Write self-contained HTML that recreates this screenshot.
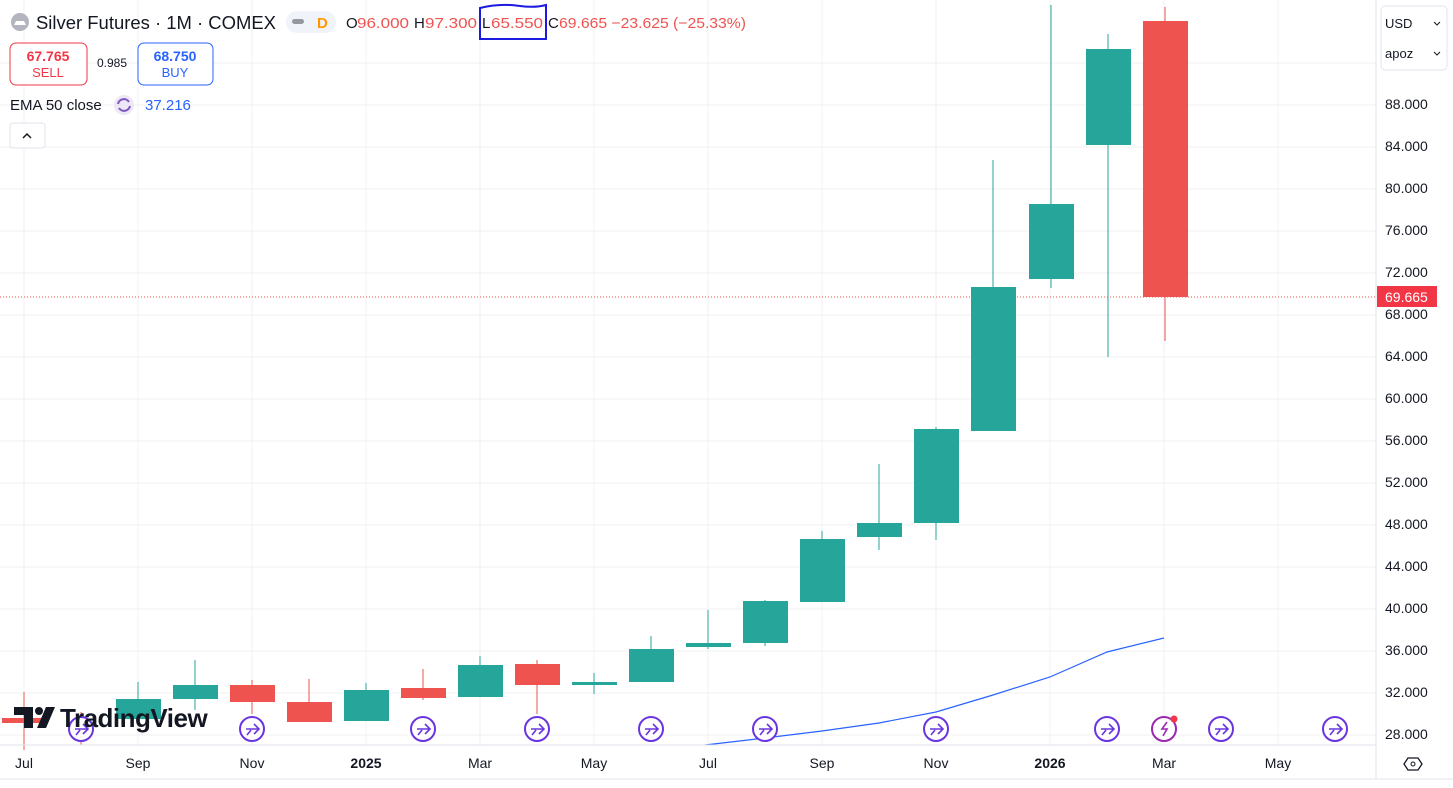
<!DOCTYPE html>
<html><head><meta charset="utf-8"><style>
body{margin:0;width:1453px;height:788px;overflow:hidden;background:#fff;font-family:"Liberation Sans",sans-serif}
svg{position:absolute;left:0;top:0}
</style></head><body>
<svg width="1453" height="788" xmlns="http://www.w3.org/2000/svg" font-family="Liberation Sans, sans-serif">
<g stroke="#f0f1f3" stroke-width="1">
<line x1="0" y1="63" x2="1376" y2="63"/><line x1="0" y1="105" x2="1376" y2="105"/><line x1="0" y1="147" x2="1376" y2="147"/><line x1="0" y1="189" x2="1376" y2="189"/><line x1="0" y1="231" x2="1376" y2="231"/><line x1="0" y1="273" x2="1376" y2="273"/><line x1="0" y1="315" x2="1376" y2="315"/><line x1="0" y1="357" x2="1376" y2="357"/><line x1="0" y1="399" x2="1376" y2="399"/><line x1="0" y1="441" x2="1376" y2="441"/><line x1="0" y1="483" x2="1376" y2="483"/><line x1="0" y1="525" x2="1376" y2="525"/><line x1="0" y1="567" x2="1376" y2="567"/><line x1="0" y1="609" x2="1376" y2="609"/><line x1="0" y1="651" x2="1376" y2="651"/><line x1="0" y1="693" x2="1376" y2="693"/><line x1="0" y1="735" x2="1376" y2="735"/>
<line x1="24" y1="0" x2="24" y2="745"/><line x1="138" y1="0" x2="138" y2="745"/><line x1="252" y1="0" x2="252" y2="745"/><line x1="366" y1="0" x2="366" y2="745"/><line x1="480" y1="0" x2="480" y2="745"/><line x1="594" y1="0" x2="594" y2="745"/><line x1="708" y1="0" x2="708" y2="745"/><line x1="822" y1="0" x2="822" y2="745"/><line x1="936" y1="0" x2="936" y2="745"/><line x1="1050" y1="0" x2="1050" y2="745"/><line x1="1164" y1="0" x2="1164" y2="745"/><line x1="1278" y1="0" x2="1278" y2="745"/>
</g>
<line x1="0" y1="297" x2="1376" y2="297" stroke="#ef5350" stroke-dasharray="1 2"/>
<g stroke-width="1">
<g fill="#ef5350" stroke="#ef5350"><line x1="24" y1="692" x2="24" y2="750"/><rect x="2" y="718" width="44" height="5" stroke="none"/></g>
<g fill="#ef5350" stroke="#ef5350"><line x1="81" y1="712" x2="81" y2="745"/></g>
<g fill="#26a69a" stroke="#26a69a"><line x1="138" y1="682" x2="138" y2="720"/><rect x="116" y="699" width="45" height="20" stroke="none"/></g>
<g fill="#26a69a" stroke="#26a69a"><line x1="195" y1="660" x2="195" y2="710"/><rect x="173" y="685" width="45" height="14" stroke="none"/></g>
<g fill="#ef5350" stroke="#ef5350"><line x1="252" y1="680" x2="252" y2="714"/><rect x="230" y="685" width="45" height="17" stroke="none"/></g>
<g fill="#ef5350" stroke="#ef5350"><line x1="309" y1="679" x2="309" y2="722"/><rect x="287" y="702" width="45" height="20" stroke="none"/></g>
<g fill="#26a69a" stroke="#26a69a"><line x1="366" y1="683" x2="366" y2="721"/><rect x="344" y="690" width="45" height="31" stroke="none"/></g>
<g fill="#ef5350" stroke="#ef5350"><line x1="423" y1="669" x2="423" y2="700"/><rect x="401" y="688" width="45" height="10" stroke="none"/></g>
<g fill="#26a69a" stroke="#26a69a"><line x1="480" y1="656" x2="480" y2="697"/><rect x="458" y="665" width="45" height="32" stroke="none"/></g>
<g fill="#ef5350" stroke="#ef5350"><line x1="537" y1="660" x2="537" y2="714"/><rect x="515" y="664" width="45" height="21" stroke="none"/></g>
<g fill="#26a69a" stroke="#26a69a"><line x1="594" y1="673" x2="594" y2="694"/><rect x="572" y="682" width="45" height="3" stroke="none"/></g>
<g fill="#26a69a" stroke="#26a69a"><line x1="651" y1="636" x2="651" y2="682"/><rect x="629" y="649" width="45" height="33" stroke="none"/></g>
<g fill="#26a69a" stroke="#26a69a"><line x1="708" y1="610" x2="708" y2="649"/><rect x="686" y="643" width="45" height="4" stroke="none"/></g>
<g fill="#26a69a" stroke="#26a69a"><line x1="765" y1="600" x2="765" y2="646"/><rect x="743" y="601" width="45" height="42" stroke="none"/></g>
<g fill="#26a69a" stroke="#26a69a"><line x1="822" y1="531" x2="822" y2="602"/><rect x="800" y="539" width="45" height="63" stroke="none"/></g>
<g fill="#26a69a" stroke="#26a69a"><line x1="879" y1="464" x2="879" y2="550"/><rect x="857" y="523" width="45" height="14" stroke="none"/></g>
<g fill="#26a69a" stroke="#26a69a"><line x1="936" y1="427" x2="936" y2="540"/><rect x="914" y="429" width="45" height="94" stroke="none"/></g>
<g fill="#26a69a" stroke="#26a69a"><line x1="993" y1="160" x2="993" y2="431"/><rect x="971" y="287" width="45" height="144" stroke="none"/></g>
<g fill="#26a69a" stroke="#26a69a"><line x1="1051" y1="5" x2="1051" y2="288"/><rect x="1029" y="204" width="45" height="75" stroke="none"/></g>
<g fill="#26a69a" stroke="#26a69a"><line x1="1108" y1="34" x2="1108" y2="357"/><rect x="1086" y="49" width="45" height="96" stroke="none"/></g>
<g fill="#ef5350" stroke="#ef5350"><line x1="1165" y1="7" x2="1165" y2="341"/><rect x="1143" y="21" width="45" height="276" stroke="none"/></g>
</g>
<polyline points="705,745 765,738 822,731 879,723 936,712 993,695 1050,677 1107,652 1164,638" fill="none" stroke="#2962ff" stroke-width="1.2"/>
<g fill="#fff" stroke="#6a35e0" stroke-width="2">
<circle cx="81" cy="729" r="12"/><circle cx="252" cy="729" r="12"/><circle cx="423" cy="729" r="12"/><circle cx="537" cy="729" r="12"/><circle cx="651" cy="729" r="12"/><circle cx="765" cy="729" r="12"/><circle cx="936" cy="729" r="12"/><circle cx="1107" cy="729" r="12"/><circle cx="1221" cy="729" r="12"/><circle cx="1335" cy="729" r="12"/>
<circle cx="1164" cy="729" r="12" stroke="#9c27b0"/>
</g>
<g fill="none" stroke="#6a35e0" stroke-width="1.6">
<path d="M75 729h12M83 724l5 5-5 5M76 735l4-5"/><path d="M246 729h12M254 724l5 5-5 5M247 735l4-5"/><path d="M417 729h12M425 724l5 5-5 5M418 735l4-5"/><path d="M531 729h12M539 724l5 5-5 5M532 735l4-5"/><path d="M645 729h12M653 724l5 5-5 5M646 735l4-5"/><path d="M759 729h12M767 724l5 5-5 5M760 735l4-5"/><path d="M930 729h12M938 724l5 5-5 5M931 735l4-5"/><path d="M1101 729h12M1109 724l5 5-5 5M1102 735l4-5"/><path d="M1215 729h12M1223 724l5 5-5 5M1216 735l4-5"/><path d="M1329 729h12M1337 724l5 5-5 5M1330 735l4-5"/>
<path d="M1167 722l-5 7h5l-4 7" stroke="#9c27b0"/>
</g>
<circle cx="1174" cy="719" r="3.5" fill="#f23645"/>
<g fill="#131722"><path d="M14 707h19v21h-9v-13h-10z"/><circle cx="39" cy="711" r="4"/><path d="M46 707h9l-9 21h-9z"/></g>
<text x="60" y="727" font-size="26" font-weight="bold" fill="#131722" letter-spacing="-0.5">TradingView</text>
<line x1="0" y1="745" x2="1376" y2="745" stroke="#e0e3eb"/>
<line x1="1376" y1="0" x2="1376" y2="779" stroke="#e0e3eb"/>
<line x1="0" y1="779" x2="1453" y2="779" stroke="#e0e3eb"/>
<g font-size="14" fill="#131722" text-anchor="middle">
<text x="24" y="768">Jul</text><text x="138" y="768">Sep</text><text x="252" y="768">Nov</text><text x="366" y="768" font-weight="bold">2025</text><text x="480" y="768">Mar</text><text x="594" y="768">May</text><text x="708" y="768">Jul</text><text x="822" y="768">Sep</text><text x="936" y="768">Nov</text><text x="1050" y="768" font-weight="bold">2026</text><text x="1164" y="768">Mar</text><text x="1278" y="768">May</text>
</g>
<g font-size="14" fill="#131722">
<text x="1385" y="109">88.000</text><text x="1385" y="151">84.000</text><text x="1385" y="193">80.000</text><text x="1385" y="235">76.000</text><text x="1385" y="277">72.000</text><text x="1385" y="319">68.000</text><text x="1385" y="361">64.000</text><text x="1385" y="403">60.000</text><text x="1385" y="445">56.000</text><text x="1385" y="487">52.000</text><text x="1385" y="529">48.000</text><text x="1385" y="571">44.000</text><text x="1385" y="613">40.000</text><text x="1385" y="655">36.000</text><text x="1385" y="697">32.000</text><text x="1385" y="739">28.000</text>
</g>
<rect x="1377" y="286" width="60" height="21" fill="#f23645"/>
<text x="1385" y="302" font-size="14" fill="#fff">69.665</text>
<rect x="1381" y="6" width="66" height="64" rx="4" fill="#fff" stroke="#e0e3eb"/>
<text x="1385" y="28" font-size="13" fill="#131722">USD</text><text x="1385" y="58" font-size="13" fill="#131722">apoz</text>
<path d="M1434 22l3 3 3-3M1434 52l3 3 3-3" fill="none" stroke="#131722"/>
<path d="M1404 764l4-6h10l4 6-4 6h-10z" fill="none" stroke="#131722" stroke-width="1.3"/><circle cx="1413" cy="764" r="2" fill="none" stroke="#131722"/>
<circle cx="20" cy="22" r="9" fill="#b2b5be"/><path d="M14 25h12l-2-4h-8z" fill="#fff"/>
<text x="36" y="29" font-size="18" fill="#131722" textLength="240" lengthAdjust="spacingAndGlyphs">Silver Futures · 1M · COMEX</text>
<rect x="286" y="11" width="50" height="22" rx="11" fill="#f0f3fa"/><rect x="292" y="19" width="12" height="5" rx="2.5" fill="#9598a1"/>
<text x="317" y="28" font-size="15" fill="#ff9800" font-weight="bold">D</text>
<g font-size="15">
<text x="346" y="28" fill="#131722">O</text><text x="357" y="28" fill="#ef5350" textLength="52" lengthAdjust="spacingAndGlyphs">96.000</text>
<text x="414" y="28" fill="#131722">H</text><text x="425" y="28" fill="#ef5350" textLength="52" lengthAdjust="spacingAndGlyphs">97.300</text>
<text x="482" y="28" fill="#131722">L</text><text x="491" y="28" fill="#ef5350" textLength="52" lengthAdjust="spacingAndGlyphs">65.550</text>
<text x="548" y="28" fill="#131722">C</text><text x="559" y="28" fill="#ef5350" textLength="187" lengthAdjust="spacingAndGlyphs">69.665 −23.625 (−25.33%)</text>
</g>
<path d="M480 8 Q500 3 520 6 Q535 8 546 5 V39 H480 Z" fill="none" stroke="#1a1ae0" stroke-width="2"/>
<rect x="10" y="43" width="77" height="42" rx="6" fill="#fff" stroke="#f23645"/>
<text x="48" y="61" font-size="14" fill="#f23645" font-weight="bold" text-anchor="middle">67.765</text><text x="48" y="77" font-size="13" fill="#f23645" text-anchor="middle">SELL</text>
<text x="112" y="67" font-size="12" fill="#131722" text-anchor="middle">0.985</text>
<rect x="138" y="43" width="75" height="42" rx="6" fill="#fff" stroke="#2962ff"/>
<text x="175" y="61" font-size="14" fill="#2962ff" font-weight="bold" text-anchor="middle">68.750</text><text x="175" y="77" font-size="13" fill="#2962ff" text-anchor="middle">BUY</text>
<text x="10" y="110" font-size="15" fill="#131722">EMA 50 close</text>
<circle cx="124" cy="105" r="10" fill="#ede7f6"/><path d="M118 104a6 6 0 0 1 11-2M130 106a6 6 0 0 1-11 2" fill="none" stroke="#7e57c2" stroke-width="2"/>
<text x="145" y="110" font-size="15" fill="#2962ff">37.216</text>
<rect x="10" y="123" width="35" height="25" rx="3" fill="#fff" stroke="#e0e3eb"/><path d="M23 138l4-4 4 4" fill="none" stroke="#131722" stroke-width="1.5"/>
</svg>
</body></html>
